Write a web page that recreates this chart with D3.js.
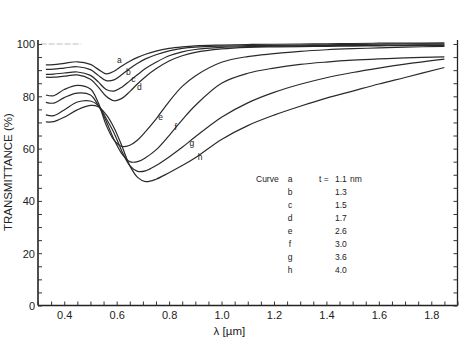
<!DOCTYPE html>
<html><head><meta charset="utf-8">
<script src="https://cdn.jsdelivr.net/npm/d3@7"></script>
<style>
html,body{margin:0;padding:0;background:#fff;}
svg{display:block;}
text{font-family:"Liberation Sans","DejaVu Sans",sans-serif;fill:#222;}
</style></head>
<body>
<script>
// ---- data ----
const wavelength = [0.33,0.36,0.40,0.45,0.50,0.53,0.56,0.59,0.62,0.65,0.68,0.71,0.75,0.80,0.85,0.90,1.00,1.10,1.20,1.30,1.40,1.50,1.60,1.70,1.85];
const curveA = [92.0,92.1,92.6,93.2,92.2,90.3,88.6,89.6,91.6,93.4,94.9,96.1,97.3,98.3,98.9,99.3,99.6,99.8,99.9,100.0,100.1,100.2,100.3,100.3,100.4];
const curveB = [90.3,90.4,90.8,91.3,90.2,88.0,86.0,86.3,88.3,90.6,92.6,94.3,95.9,97.4,98.3,98.8,99.2,99.4,99.5,99.6,99.7,99.8,99.9,100.0,100.1];
const curveC = [88.4,88.5,88.9,89.3,88.0,85.5,82.6,82.0,83.5,85.9,88.3,90.6,93.0,95.5,97.0,97.9,98.7,99.0,99.2,99.3,99.4,99.5,99.5,99.6,99.7];
const curveD = [87.3,87.3,87.7,88.2,86.5,83.5,80.0,78.3,79.2,81.8,84.8,87.5,90.5,93.5,95.5,96.8,98.1,98.7,98.9,99.0,99.1,99.2,99.3,99.4,99.5];
const curveE = [80.5,80.2,82.6,84.2,82.8,77.5,69.0,63.2,60.8,61.3,63.3,66.5,71.3,78.0,83.8,87.8,93.0,95.2,96.3,97.2,97.8,98.2,98.5,98.8,99.1];
const curveF = [77.7,77.4,79.5,81.2,80.5,76.5,70.5,63.5,58.0,55.0,55.0,56.5,59.5,65.0,71.0,76.5,85.0,88.8,90.8,92.2,93.1,93.8,94.3,94.7,95.1];
const curveG = [72.9,72.6,74.8,77.8,78.2,76.5,71.5,66.0,59.0,53.5,51.3,51.5,53.5,56.8,60.5,64.5,72.0,77.5,81.5,84.6,87.1,89.1,90.8,92.3,94.2];
const curveH = [70.2,70.3,72.0,74.8,76.5,76.0,73.0,68.0,61.0,53.5,49.0,47.4,48.3,50.8,53.5,56.5,63.5,68.8,72.8,76.2,79.3,82.0,84.7,87.2,91.0];
const curveIds = ["a","b","c","d","e","f","g","h"];
const thickness = ["1.1","1.3","1.5","1.7","2.6","3.0","3.6","4.0"];
// letter label anchor on each curve (data units)
const labelX = [0.61,0.645,0.664,0.687,0.768,0.825,0.887,0.918];
const labelY = [93.9,89.3,86.6,83.5,72.0,68.2,62.1,56.7];
const xTickLabels = [0.4,0.6,0.8,1.0,1.2,1.4,1.6,1.8];
const yTickLabels = [0,20,40,60,80,100];

const series = [curveA,curveB,curveC,curveD,curveE,curveF,curveG,curveH];

const W = 460, H = 344;
const svg = d3.select("body").append("svg").attr("width",W).attr("height",H);

const x = d3.scaleLinear().domain([0.3,1.9]).range([38,457.5]);
const y = d3.scaleLinear().domain([0,100]).range([305.5,44]);
const yTop = 101.5;

// faint line at 100 near axis
svg.append("line").attr("x1",x(0.31)).attr("x2",x(0.465)).attr("y1",y(100)).attr("y2",y(100))
  .attr("stroke","#bbb").attr("stroke-width",1).attr("stroke-dasharray","6,2");

// spines
const ax = svg.append("g").attr("stroke","#222").attr("fill","none");
ax.append("line").attr("x1",x(0.3)).attr("x2",x(0.3)).attr("y1",y(0)).attr("y2",y(yTop)).attr("stroke-width",1.6);
ax.append("line").attr("x1",x(1.9)).attr("x2",x(1.9)).attr("y1",y(0)).attr("y2",y(yTop)).attr("stroke-width",1.3);
ax.append("line").attr("x1",x(0.3)).attr("x2",x(1.9)).attr("y1",y(0)).attr("y2",y(0)).attr("stroke-width",1.6);

// y ticks (left, inward) via axis
const yMinor = d3.range(0,101,5);
const yAxisL = d3.axisRight(y).tickValues(yMinor).tickSize(4).tickFormat("");
svg.append("g").attr("transform",`translate(${x(0.3)},0)`).call(yAxisL)
  .call(g=>g.select(".domain").remove()).selectAll("line").attr("stroke","#333");
const yAxisR = d3.axisLeft(y).tickValues(yMinor).tickSize(4).tickFormat("");
svg.append("g").attr("transform",`translate(${x(1.9)},0)`).call(yAxisR)
  .call(g=>g.select(".domain").remove()).selectAll("line").attr("stroke","#333");
// y labels
const yLab = d3.axisLeft(y).tickValues(yTickLabels).tickSize(0).tickPadding(3).tickFormat(d3.format("d"));
svg.append("g").attr("transform",`translate(${x(0.3)},0)`).call(yLab)
  .call(g=>g.select(".domain").remove())
  .selectAll("text").style("font-size","11px").attr("fill","#222").attr("dy","0.35em");

// x ticks inward
const xMinor = d3.range(0,33).map(i=>+(0.3+i*0.05).toFixed(2));
const xAxisT = d3.axisTop(x).tickValues(xMinor).tickSize(4).tickFormat("");
svg.append("g").attr("transform",`translate(0,${y(0)})`).call(xAxisT)
  .call(g=>g.select(".domain").remove()).selectAll("line").attr("stroke","#333");
const xLab = d3.axisBottom(x).tickValues(xTickLabels).tickSize(0).tickPadding(6).tickFormat(d3.format(".1f"));
svg.append("g").attr("transform",`translate(0,${y(0)})`).call(xLab)
  .call(g=>g.select(".domain").remove())
  .selectAll("text").style("font-size","11px").attr("fill","#222");

// axis titles
svg.append("text").attr("transform",`translate(12,${y(51)}) rotate(-90)`).attr("text-anchor","middle")
  .style("font-size","11.5px").text("TRANSMITTANCE (%)");
svg.append("text").attr("x",x(1.03)).attr("y",335).attr("text-anchor","middle")
  .style("font-size","11.5px").text("λ [µm]");

// curves
const line = d3.line().x((d,i)=>x(wavelength[i])).y(d=>y(d)).curve(d3.curveCatmullRom.alpha(0.5));
svg.append("g").selectAll("path").data(series).join("path")
  .attr("d",line).attr("fill","none").attr("stroke","#2a2a2a").attr("stroke-width",1.2);

// curve letters
svg.append("g").selectAll("text").data(curveIds).join("text")
  .attr("x",(d,i)=>x(labelX[i])).attr("y",(d,i)=>y(labelY[i]))
  .attr("dy","0.35em").attr("text-anchor","middle").style("font-size","8.5px").text(d=>d);

// legend table
const lg = svg.append("g").style("font-size","8.5px");
const rowY = i => 179 + i*13;
lg.append("text").attr("x",256).attr("y",rowY(0)).attr("dy","0.35em").text("Curve");
lg.selectAll("text.id").data(curveIds).join("text").attr("class","id")
  .attr("x",290).attr("y",(d,i)=>rowY(i)).attr("dy","0.35em").attr("text-anchor","middle").text(d=>d);
lg.append("text").attr("x",319).attr("y",rowY(0)).attr("dy","0.35em").text("t =");
lg.selectAll("text.val").data(thickness).join("text").attr("class","val")
  .attr("x",335).attr("y",(d,i)=>rowY(i)).attr("dy","0.35em").text(d=>d);
lg.append("text").attr("x",350).attr("y",rowY(0)).attr("dy","0.35em").text("nm");
</script>
</body></html>
